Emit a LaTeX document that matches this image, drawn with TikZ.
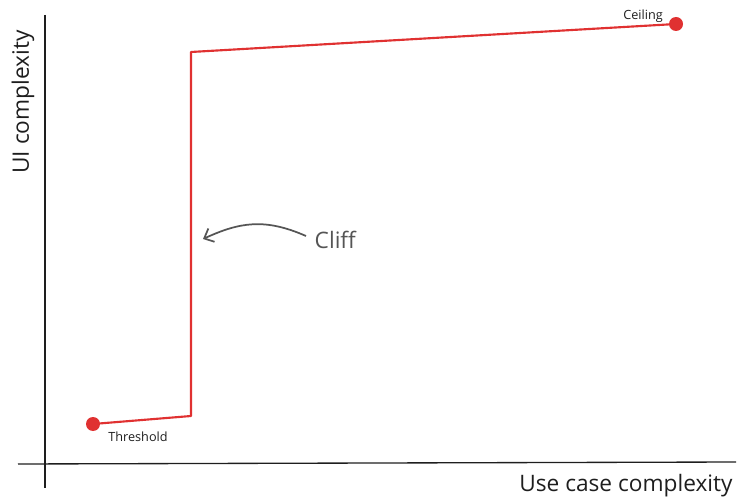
\documentclass[tikz,border=0pt]{standalone}
\usepackage{fontspec}
\setmainfont{Open Sans}
\usetikzlibrary{positioning, arrows.meta}
\definecolor{curvered}{HTML}{E03131}
\definecolor{pencil}{HTML}{1E1E1E}
\definecolor{slate}{HTML}{555555}

\tikzset{
  axis/.style={pencil, line width=1pt},
  curve/.style={curvered, line width=1.6pt, line join=round},
  endpoint/.style={circle, fill=curvered, inner sep=0pt, minimum size=10.5pt},
  tag/.style={pencil, font=\fontsize{9.5}{11}\selectfont},
  axislabel/.style={pencil, font=\fontsize{17}{19}\selectfont},
}

\begin{document}
\begin{tikzpicture}[x=0.75pt, y=-0.75pt]
    \useasboundingbox (0,0) rectangle (739,502);
    % Achsen
    \coordinate (ytop) at (45,15);
    \coordinate (ybot) at (45,488);
    \coordinate (xleft) at (18,464);
    \coordinate (xright) at (736,462);
    \draw[axis] (ytop) -- (ybot);
    \draw[axis] (xleft) -- (xright);
    \node[axislabel, rotate=90] (ylab) at (23,102) {UI complexity};
    \node[axislabel] (xlab) at (626,486) {Use case complexity};
    % Kurve: flach, Klippe, flach
    \node[endpoint] (thresh) at (93,424) {};
    \node[endpoint] (ceil) at (676,24) {};
    \coordinate (cliffbot) at (191,416);
    \coordinate (clifftop) at (191,52);
    \draw[curve] (thresh.center) -- (cliffbot) -- (clifftop) -- (ceil.center);
    \node[tag] (threshlab) at (138,437) {Threshold};
    \node[tag] (ceillab) at (643,16) {Ceiling};
    % Beschriftung der Klippe
    \node[slate, font=\fontsize{17}{19}\selectfont, anchor=west] (cliff) at (310,240) {Cliff};
    \coordinate (cliffpt) at (203,239);
    \draw[slate, line width=1.3pt, -{Straight Barb[length=6pt, width=11pt]}]
      (cliff.west) ++(-4,-4) .. controls (265,218) and (240,222) .. (cliffpt);
\end{tikzpicture}
\end{document}
